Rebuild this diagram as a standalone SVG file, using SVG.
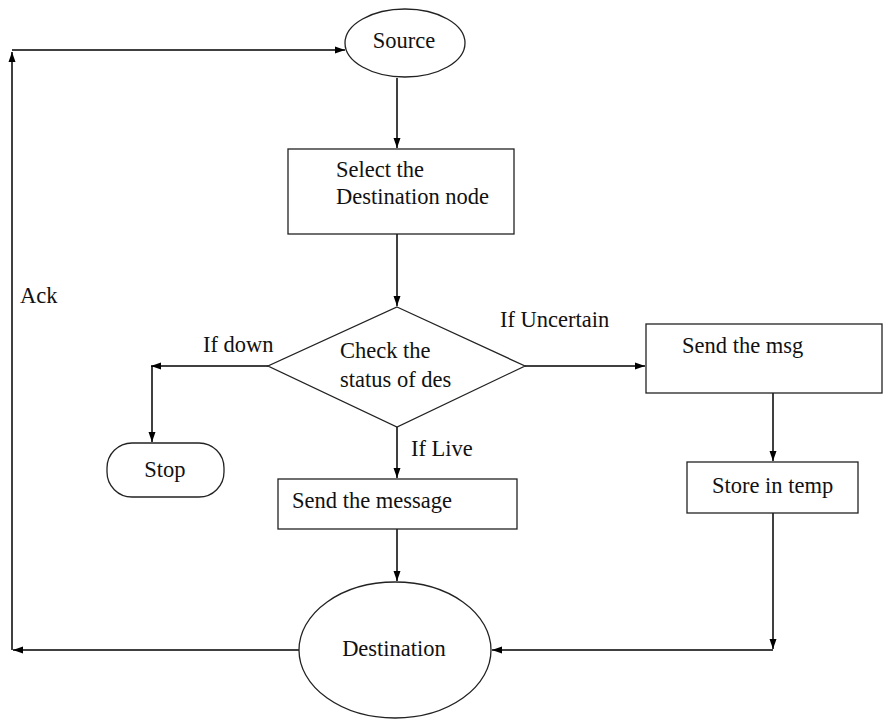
<svg xmlns="http://www.w3.org/2000/svg" width="883" height="720" viewBox="0 0 883 720">
<defs>
<marker id="ah" viewBox="0 0 10 10" refX="10" refY="5" markerWidth="11" markerHeight="10" markerUnits="userSpaceOnUse" orient="auto">
<path d="M0,1.5 L10,5 L0,8.5 Z" fill="#000"/>
</marker>
<style>
.s{fill:#fff;stroke:#222;stroke-width:1.3}
.c{fill:none;stroke:#000;stroke-width:1.5}
text{font-family:"Liberation Serif","Times New Roman",serif;font-size:22.5px;fill:#111}
</style>
</defs>
<rect width="883" height="720" fill="#fff"/>
<g id="connectors">
<path class="c" d="M12,650 L12,52" marker-end="url(#ah)"/>
<path class="c" d="M12,50 L345,50" marker-end="url(#ah)"/>
<path class="c" d="M397,78 L397,148" marker-end="url(#ah)"/>
<path class="c" d="M397,234 L397,306" marker-end="url(#ah)"/>
<path class="c" d="M268,366 L151,366" marker-end="url(#ah)"/>
<path class="c" d="M152,366 L152,442" marker-end="url(#ah)"/>
<path class="c" d="M397,427 L397,478" marker-end="url(#ah)"/>
<path class="c" d="M525,366 L645,366" marker-end="url(#ah)"/>
<path class="c" d="M773,393 L773,461" marker-end="url(#ah)"/>
<path class="c" d="M397,529 L397,581" marker-end="url(#ah)"/>
<path class="c" d="M773,513 L773,649" marker-end="url(#ah)"/>
<path class="c" d="M773,650 L492,650" marker-end="url(#ah)"/>
<path class="c" d="M299,650 L13,650" marker-end="url(#ah)"/>
<text x="20" y="303">Ack</text>
<text x="203" y="352">If down</text>
<text x="500" y="327">If Uncertain</text>
<text x="411" y="456">If Live</text>
</g>
<g id="source">
<ellipse class="s" cx="405" cy="43" rx="60" ry="34"/>
<text x="404" y="48" text-anchor="middle">Source</text>
</g>
<g id="select">
<rect class="s" x="288" y="149" width="226" height="85"/>
<text x="336" y="177">Select the</text>
<text x="336" y="204">Destination node</text>
</g>
<g id="check">
<polygon class="s" points="397,307 525,366 397,427 268,366"/>
<text x="340" y="358">Check the</text>
<text x="340" y="387">status of des</text>
</g>
<g id="stop">
<rect class="s" x="107" y="443" width="117" height="54" rx="25" ry="25"/>
<text x="165" y="477" text-anchor="middle">Stop</text>
</g>
<g id="sendmessage">
<rect class="s" x="278" y="479" width="239" height="50"/>
<text x="292" y="508">Send the message</text>
</g>
<g id="sendmsg">
<rect class="s" x="646" y="324" width="236" height="69"/>
<text x="682" y="353">Send the msg</text>
</g>
<g id="store">
<rect class="s" x="687" y="462" width="171" height="51"/>
<text x="712" y="493">Store in temp</text>
</g>
<g id="destination">
<ellipse class="s" cx="395" cy="650" rx="96" ry="68"/>
<text x="394" y="656" text-anchor="middle">Destination</text>
</g>
</svg>
